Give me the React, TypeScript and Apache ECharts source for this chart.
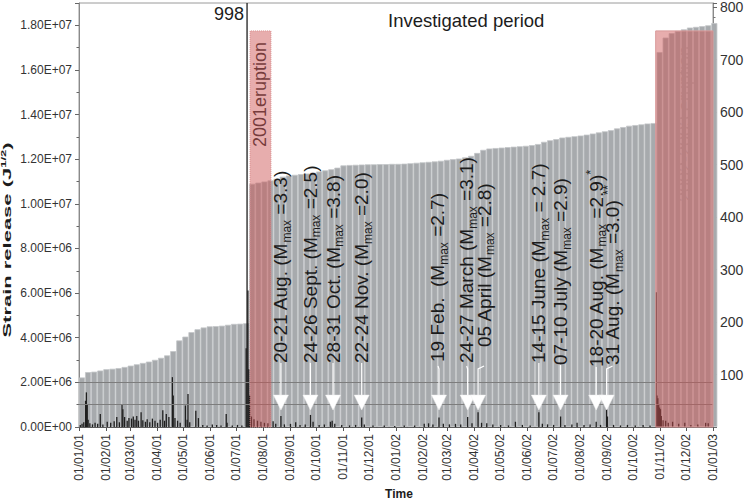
import React, { useEffect, useRef } from 'react';
import * as echarts from 'echarts';

const DAY = 86400000;
const FONT = 'Liberation Sans, Arial, Helvetica, sans-serif';

// ---------- axis ranges & tick labels ----------
const X_START = '2001-01-01';
const X_END = '2003-01-01';
const X_TICK_LABELS = [
  '01/01/01', '01/02/01', '01/03/01', '01/04/01', '01/05/01', '01/06/01',
  '01/07/01', '01/08/01', '01/09/01', '01/10/01', '01/11/01', '01/12/01',
  '01/01/02', '01/02/02', '01/03/02', '01/04/02', '01/05/02', '01/06/02',
  '01/07/02', '01/08/02', '01/09/02', '01/10/02', '01/11/02', '01/12/02',
  '01/01/03',
];
const LEFT_MAX = 1.9e7;
const LEFT_INTERVAL = 2e6;
const RIGHT_MAX = 808;
const RIGHT_INTERVAL = 100;

// ---------- cumulative strain release (weekly bins from 2001-01-01), units of 1e6 J^1/2 ----------
const CUM_WEEK_START = '2001-01-01';
const CUM_WEEK_DAYS = 7;
const CUM_STRAIN_E6 = [
  2.22, 2.46, 2.48, 2.53, 2.59, 2.61, 2.64, 2.69, 2.75, 2.81,
  2.87, 2.93, 3.01, 3.10, 3.21, 3.40, 3.88, 4.05, 4.25, 4.38,
  4.46, 4.51, 4.52, 4.54, 4.58, 4.62, 4.63, 4.65, 10.90, 10.95,
  11.00, 11.05, 11.12, 11.22, 11.27, 11.30, 11.33, 11.36, 11.40, 11.45,
  11.50, 11.55, 11.62, 11.72, 11.74, 11.75, 11.76, 11.77, 11.77, 11.78,
  11.78, 11.79, 11.79, 11.80, 11.82, 11.84, 11.86, 11.88, 11.90, 11.93,
  11.97, 12.00, 12.03, 12.08, 12.15, 12.28, 12.42, 12.48, 12.50, 12.52,
  12.54, 12.56, 12.58, 12.60, 12.63, 12.68, 12.78, 12.85, 12.90, 12.97,
  13.00, 13.03, 13.06, 13.10, 13.15, 13.20, 13.25, 13.30, 13.38, 13.44,
  13.50, 13.53, 13.56, 13.60, 13.62, 16.80, 17.45, 17.65, 17.75, 17.82,
  17.90, 17.93, 17.96, 18.00, 18.10,
];

// ---------- daily number of events (right axis) ----------
const DAILY_EVENTS: [string, number][] = [
  ['2001-01-02', 4], ['2001-01-04', 6], ['2001-01-06', 9], ['2001-01-08', 50], ['2001-01-09', 66],
  ['2001-01-10', 42], ['2001-01-11', 14], ['2001-01-13', 7], ['2001-01-16', 5], ['2001-01-19', 8],
  ['2001-01-22', 6], ['2001-01-25', 25], ['2001-01-28', 5], ['2001-02-02', 10], ['2001-02-06', 8],
  ['2001-02-10', 11], ['2001-02-13', 19], ['2001-02-16', 9], ['2001-02-19', 44], ['2001-02-20', 34],
  ['2001-02-22', 19], ['2001-02-25', 12], ['2001-02-27', 17], ['2001-03-02', 16], ['2001-03-04', 20],
  ['2001-03-06', 14], ['2001-03-08', 21], ['2001-03-10', 12], ['2001-03-13', 28], ['2001-03-15', 13],
  ['2001-03-18', 10], ['2001-03-20', 15], ['2001-03-23', 9], ['2001-03-26', 16], ['2001-03-29', 12],
  ['2001-04-01', 8], ['2001-04-04', 14], ['2001-04-07', 32], ['2001-04-09', 12], ['2001-04-11', 25],
  ['2001-04-14', 19], ['2001-04-18', 95], ['2001-04-19', 60], ['2001-04-21', 17], ['2001-04-24', 12],
  ['2001-04-27', 8], ['2001-05-03', 41], ['2001-05-05', 14], ['2001-05-06', 63], ['2001-05-08', 9],
  ['2001-05-15', 31], ['2001-05-18', 17], ['2001-05-23', 4], ['2001-05-28', 3], ['2001-06-03', 5],
  ['2001-06-08', 4], ['2001-06-13', 3], ['2001-06-19', 25], ['2001-06-20', 8], ['2001-06-26', 3],
  ['2001-07-02', 4], ['2001-07-07', 3], ['2001-07-12', 150], ['2001-07-13', 998], ['2001-07-14', 260],
  ['2001-07-15', 110], ['2001-07-16', 60], ['2001-07-18', 20], ['2001-07-21', 15], ['2001-07-25', 12],
  ['2001-07-29', 10], ['2001-08-02', 8], ['2001-08-06', 7], ['2001-08-12', 11], ['2001-08-15', 6],
  ['2001-08-21', 21], ['2001-08-25', 5], ['2001-09-01', 6], ['2001-09-07', 9], ['2001-09-12', 4],
  ['2001-09-18', 5], ['2001-09-24', 23], ['2001-09-27', 10], ['2001-10-04', 4], ['2001-10-10', 5],
  ['2001-10-17', 10], ['2001-10-19', 12], ['2001-10-22', 6], ['2001-10-30', 4], ['2001-11-08', 3],
  ['2001-11-15', 4], ['2001-11-22', 18], ['2001-11-25', 5], ['2001-12-05', 3], ['2001-12-18', 3],
  ['2001-12-30', 2], ['2002-01-10', 3], ['2002-01-22', 3], ['2002-02-02', 6], ['2002-02-07', 7],
  ['2002-02-12', 5], ['2002-02-19', 18], ['2002-02-24', 6], ['2002-03-03', 5], ['2002-03-10', 6],
  ['2002-03-16', 5], ['2002-03-24', 19], ['2002-03-29', 7], ['2002-04-05', 28], ['2002-04-09', 8],
  ['2002-04-15', 7], ['2002-04-22', 5], ['2002-05-01', 4], ['2002-05-10', 3], ['2002-05-18', 10],
  ['2002-05-26', 4], ['2002-06-04', 3], ['2002-06-14', 28], ['2002-06-18', 6], ['2002-06-24', 5],
  ['2002-07-01', 4], ['2002-07-09', 20], ['2002-07-14', 4], ['2002-07-22', 5], ['2002-07-28', 8],
  ['2002-08-05', 4], ['2002-08-12', 5], ['2002-08-19', 10], ['2002-08-24', 4], ['2002-08-31', 34],
  ['2002-09-01', 20], ['2002-09-08', 4], ['2002-09-16', 3], ['2002-09-24', 4], ['2002-10-03', 3],
  ['2002-10-12', 4], ['2002-10-20', 3], ['2002-10-27', 257], ['2002-10-28', 60], ['2002-10-29', 55],
  ['2002-10-30', 42], ['2002-10-31', 37], ['2002-11-01', 34], ['2002-11-02', 21], ['2002-11-04', 13],
  ['2002-11-07', 12], ['2002-11-10', 8], ['2002-11-15', 10], ['2002-11-22', 6], ['2002-11-29', 8],
  ['2002-12-06', 4], ['2002-12-14', 5], ['2002-12-23', 8], ['2002-12-26', 7],
];
const PEAK_LABEL = '998';

// ---------- eruption periods ----------
const ERUPTION_NAMES = ['2001eruption', '2002-2003 eruption'];
const ERUPTION_FROM = ['2001-07-17', '2002-10-27'];
const ERUPTION_TO = ['2001-08-10', '2003-01-01'];
const ERUPTION_TOP = 1.775e7;

// ---------- reference levels (left axis) ----------
const REF_LEVELS = [1e6, 2e6];

// ---------- swarm annotations ----------
const ANNOT_DATES = [
  '2001-08-21', '2001-09-24', '2001-10-20', '2001-11-22', '2002-02-19', '2002-03-24',
  '2002-04-05', '2002-06-14', '2002-07-09', '2002-08-19', '2002-08-31',
];
const ANNOT_BEFORE = [
  '20-21 Aug. (M', '24-26 Sept. (M', '28-31 Oct. (M', '22-24 Nov. (M', '19 Feb.  (M', '24-27 March (M',
  '05 April (M', '14-15 June (M', '07-10 July (M', '18-20 Aug. (M', '31 Aug. (M',
];
const ANNOT_AFTER = [
  ' =3.3)', ' =2.5)', ' =3.8)', ' =2.0)', ' =2.7)', ' =3.1)',
  ' =2.8)', ' = 2.7)', ' =2.9)', ' =2.9)', ' =3.0)',
];
const ANNOT_SUP = ['', '', '', '', '', '', '', '', '', '*', ' **'];
const ANNOT_TITLE = 'Investigated period';

// ---------- styles (pixel offsets / levels) ----------
const TEXT_BASE_V = 2.87e6;
const TRI_TOP_V = 1.43e6;
const TRI_APEX_V = 0.76e6;
const ANNOT_DX = [0, 0, 0, 0, -1, -1, 6, 0, 0, 0, 6];
const ANNOT_DY = [0, 0, 0, 0, -1, 0, -16, 0, 2, 4, 2];

const ts = (s: string) => Date.UTC(+s.slice(0, 4), +s.slice(5, 7) - 1, +s.slice(8, 10));
const tickTs = (s: string) => Date.UTC(2000 + +s.slice(6, 8), +s.slice(3, 5) - 1, +s.slice(0, 2));

const sci = (v: number) => {
  if (v === 0) return '0.00E+00';
  if (Math.abs(v % LEFT_INTERVAL) > 1) return '';
  const e = Math.floor(Math.log10(v) + 1e-9);
  const m = v / Math.pow(10, e);
  return m.toFixed(2) + 'E+' + String(e).padStart(2, '0');
};

export default function App() {
  const ref = useRef<HTMLDivElement>(null);
  useEffect(() => {
    if (!ref.current) return;
    const chart = echarts.init(ref.current, null, { renderer: 'svg' });
    const x0 = ts(X_START);
    const x1 = ts(X_END);
    const tickValues = X_TICK_LABELS.map(tickTs);
    const tickMap: Record<string, string> = {};
    X_TICK_LABELS.forEach((l, i) => (tickMap[String(tickValues[i])] = l));
    const wk0 = ts(CUM_WEEK_START);
    const cumData = CUM_STRAIN_E6.map((v, i) => [wk0 + (i * CUM_WEEK_DAYS + CUM_WEEK_DAYS / 2) * DAY, v * 1e6]);
    const dailyData = DAILY_EVENTS.map(([d, c]) => [ts(d) + DAY / 2, c]);
    const annotData = ANNOT_DATES.map((d, i) => [ts(d) + DAY / 2, i]);

    const xAxisBase = {
      type: 'value',
      min: x0,
      max: x1,
      splitLine: { show: false },
    };

    const richMain = { fontSize: 19, fontFamily: FONT, fill: '#1c1c1c', lineHeight: 24 };
    const option: any = {
      animation: false,
      backgroundColor: '#ffffff',
      grid: {
        left: 79, right: 37, top: 3, bottom: 73,
        show: true, borderColor: '#9a9a9a', borderWidth: 1, backgroundColor: 'transparent',
        outerBoundsMode: 'none',
      },
      xAxis: [
        {
          ...xAxisBase,
          axisLine: { show: true, lineStyle: { color: '#555', width: 1 } },
          axisTick: { show: true, length: 4, customValues: tickValues, lineStyle: { color: '#555' } },
          axisLabel: {
            customValues: tickValues,
            rotate: 90,
            margin: 7,
            fontSize: 12,
            fontFamily: FONT,
            color: '#333',
            formatter: (v: number) => tickMap[String(v)] ?? '',
          },
        },
        { ...xAxisBase, show: false },
      ],
      yAxis: [
        {
          type: 'value',
          min: 0,
          max: LEFT_MAX,
          interval: LEFT_INTERVAL,
          axisLine: { show: true, lineStyle: { color: '#8a8a8a' } },
          axisTick: { show: true, length: 4, lineStyle: { color: '#666' } },
          minorTick: { show: true, splitNumber: 2, length: 2.5, lineStyle: { color: '#666' } },
          splitLine: { show: false },
          axisLabel: {
            formatter: sci, fontSize: 12, fontFamily: FONT, color: '#333', margin: 7,
            showMaxLabel: true, hideOverlap: false,
          },
        },
        {
          type: 'value',
          position: 'right',
          min: 0,
          max: RIGHT_MAX,
          interval: RIGHT_INTERVAL,
          axisLine: { show: true, lineStyle: { color: '#8a8a8a' } },
          axisTick: { show: true, length: 4, lineStyle: { color: '#666' } },
          minorTick: { show: true, splitNumber: 5, length: 2.5, lineStyle: { color: '#777' } },
          splitLine: { show: false },
          axisLabel: {
            fontSize: 14, fontFamily: FONT, color: '#333', margin: 7,
            showMinLabel: false, showMaxLabel: true, hideOverlap: false,
            formatter: (v: number) => (v > 0 && v % RIGHT_INTERVAL === 0 ? String(v) : ''),
          },
        },
      ],
      series: [
        {
          name: 'cumulative',
          type: 'bar',
          xAxisIndex: 0,
          yAxisIndex: 0,
          data: cumData,
          barWidth: 6.08,
          itemStyle: { color: '#a7aaad', borderColor: '#c3c5c8', borderWidth: 0.8 },
          z: 2,
          silent: true,
        },
        {
          name: 'daily',
          type: 'bar',
          xAxisIndex: 1,
          yAxisIndex: 1,
          data: dailyData,
          barWidth: 1.3,
          itemStyle: { color: '#1f1f1f' },
          z: 3,
          silent: true,
        },
        {
          name: 'refs',
          type: 'line',
          xAxisIndex: 0,
          yAxisIndex: 0,
          data: [],
          z: 4,
          silent: true,
          markLine: {
            silent: true,
            z: 4,
            symbol: 'none',
            label: { show: false },
            lineStyle: { color: '#7d7d7d', width: 1, type: 'solid' },
            data: REF_LEVELS.map((v) => ({ yAxis: v })),
          },
        },
        {
          name: 'eruptions',
          type: 'line',
          xAxisIndex: 0,
          yAxisIndex: 0,
          data: [],
          z: 6,
          silent: true,
          markArea: {
            silent: true,
            z: 6,
            data: ERUPTION_FROM.map((f, i) => [
              {
                xAxis: ts(f),
                yAxis: 0,
                itemStyle: {
                  color: 'rgba(205, 80, 80, 0.47)',
                  borderColor: i === 0 ? '#d98c8c' : '#d99a9a',
                  borderWidth: 1,
                  borderType: i === 0 ? 'dotted' : 'solid',
                },
              },
              { xAxis: ts(ERUPTION_TO[i]), yAxis: ERUPTION_TOP },
            ]),
          },
        },
        {
          name: 'annotations',
          type: 'custom',
          xAxisIndex: 0,
          yAxisIndex: 0,
          data: annotData,
          z: 8,
          silent: true,
          renderItem: (_params: any, api: any) => {
            const t = api.value(0);
            const i = api.value(1) as number;
            const pTop = api.coord([t, TRI_TOP_V]);
            const pApex = api.coord([t, TRI_APEX_V]);
            const pText = api.coord([t, TEXT_BASE_V]);
            const x = pTop[0];
            const dx = ANNOT_DX[i];
            const dy = ANNOT_DY[i];
            const tx = x + dx;
            const ty = pText[1] + dy;
            const linePts =
              dx === 0
                ? [[x, pTop[1]], [x, ty]]
                : [[x, pTop[1]], [x, pText[1] + 6], [tx, pText[1] + 3]];
            let text = `{n|${ANNOT_BEFORE[i]}}{s|max}{n|${ANNOT_AFTER[i]}}`;
            const sup = ANNOT_SUP[i];
            if (sup) {
              const lead = sup.startsWith(' ') ? '{n| }' : '';
              text += `${lead}{u|${sup.trim()}}`;
            }
            return {
              type: 'group',
              children: [
                {
                  type: 'polyline',
                  shape: { points: linePts },
                  style: { stroke: '#ffffff', lineWidth: 1.2, fill: null },
                },
                {
                  type: 'polygon',
                  shape: { points: [[x - 7.5, pTop[1]], [x + 7.5, pTop[1]], [x, pApex[1]]] },
                  style: { fill: '#ffffff', stroke: '#f0f0f0', lineWidth: 0.5 },
                },
                {
                  type: 'text',
                  x: tx,
                  y: ty,
                  rotation: Math.PI / 2,
                  style: {
                    text,
                    align: 'left',
                    verticalAlign: 'middle',
                    rich: {
                      n: richMain,
                      s: { fontSize: 12, fontFamily: FONT, fill: '#1c1c1c', verticalAlign: 'bottom', lineHeight: 14 },
                      u: { fontSize: 13, fontFamily: FONT, fill: '#1c1c1c', verticalAlign: 'top', lineHeight: 14 },
                    },
                  },
                },
              ],
            };
          },
        },
      ],
      graphic: [
        {
          type: 'text',
          x: 244, y: 14,
          style: { text: PEAK_LABEL, fontSize: 18, fontFamily: FONT, fill: '#1c1c1c', align: 'right', verticalAlign: 'middle' },
        },
        {
          type: 'text',
          x: 388, y: 20,
          style: { text: ANNOT_TITLE, fontSize: 18.5, fontFamily: FONT, fill: '#1c1c1c', align: 'left', verticalAlign: 'middle' },
        },
        {
          type: 'text',
          x: 260, y: 147, rotation: Math.PI / 2,
          style: { text: ERUPTION_NAMES[0], fontSize: 18, fontFamily: FONT, fill: '#2a2a2a', align: 'left', verticalAlign: 'middle' },
        },
        {
          type: 'text',
          x: 685, y: 202, rotation: Math.PI / 2,
          style: { text: ERUPTION_NAMES[1], fontSize: 18, fontFamily: FONT, fill: '#2a2a2a', align: 'left', verticalAlign: 'middle' },
        },
        {
          type: 'text',
          x: 7, y: 240, rotation: Math.PI / 2, scaleX: 2.0,
          style: {
            text: '{b|Strain release (J}{p|1/2}{b|)}',
            align: 'center',
            verticalAlign: 'middle',
            rich: {
              b: { fontSize: 11, fontWeight: 'bold', fontFamily: FONT, fill: '#1c1c1c', lineHeight: 14 },
              p: { fontSize: 6.5, fontWeight: 'bold', fontFamily: FONT, fill: '#1c1c1c', verticalAlign: 'top', lineHeight: 9 },
            },
          },
        },
        {
          type: 'text',
          x: 399, y: 494,
          style: { text: 'Time', fontSize: 12, fontWeight: 'bold', fontFamily: FONT, fill: '#1c1c1c', align: 'center', verticalAlign: 'middle' },
        },
      ],
    };
    chart.setOption(option);
    return () => chart.dispose();
  }, []);
  return (
    <div
      ref={ref}
      style={{ position: 'fixed', left: 0, top: 0, width: 750, height: 500, background: '#fff' }}
    />
  );
}
